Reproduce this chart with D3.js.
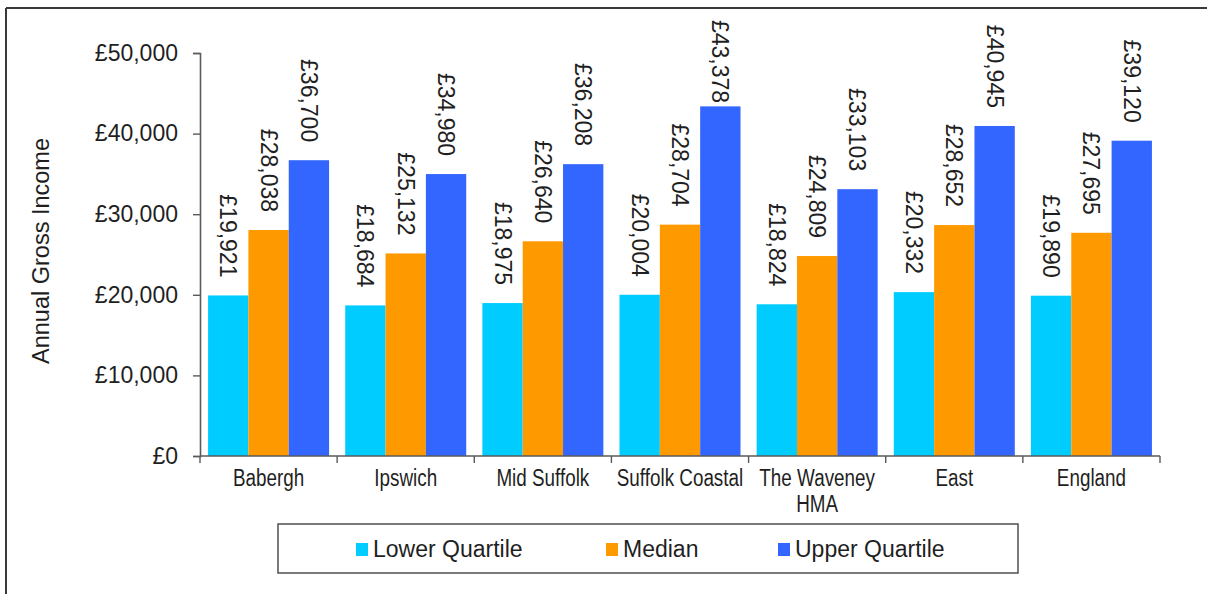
<!DOCTYPE html>
<html>
<head>
<meta charset="utf-8">
<script src="https://cdn.jsdelivr.net/npm/d3@7"></script>
<style>
  html, body { margin: 0; padding: 0; background: #fff; }
  svg { display: block; font-family: "Liberation Sans", Arial, Helvetica, sans-serif; }
</style>
</head>
<body>
<svg id="chart" width="1207" height="594"></svg>
<script>
// Areas shown along the x axis
const areas = ["Babergh", "Ipswich", "Mid Suffolk", "Suffolk Coastal", "The Waveney HMA", "East", "England"];
// Axis label lines for each area
const areaLabelLines = [["Babergh"], ["Ipswich"], ["Mid Suffolk"], ["Suffolk Coastal"], ["The Waveney", "HMA"], ["East"], ["England"]];

// Series names and annual gross income (GBP) per area
const seriesNames = ["Lower Quartile", "Median", "Upper Quartile"];
const lowerQuartile = [19921, 18684, 18975, 20004, 18824, 20332, 19890];
const median        = [28038, 25132, 26640, 28704, 24809, 28652, 27695];
const upperQuartile = [36700, 34980, 36208, 43378, 33103, 40945, 39120];

// Y axis ticks
const yTicks = [0, 10000, 20000, 30000, 40000, 50000];

const seriesValues = [lowerQuartile, median, upperQuartile];
const seriesColors = ["#00CCFF", "#FF9900", "#3366FF"];

const svg = d3.select("#chart");
const textColor = "#1f1f1f";
const axisColor = "#5a5a5a";

// Outer frame
svg.append("line").attr("x1", 6).attr("y1", 8).attr("x2", 1207).attr("y2", 8)
  .attr("stroke", "#3a3a3a").attr("stroke-width", 2);
svg.append("line").attr("x1", 6).attr("y1", 8).attr("x2", 6).attr("y2", 594)
  .attr("stroke", "#3a3a3a").attr("stroke-width", 2);

const plot = { left: 200, right: 1160, top: 53, bottom: 456 };

const x0 = d3.scaleBand().domain(areas).range([plot.left, plot.right]).paddingInner(0).paddingOuter(0);
const x1 = d3.scaleBand().domain(seriesNames).range([0, x0.bandwidth()]).paddingInner(0).paddingOuter(0.2);
const y = d3.scaleLinear().domain([0, 50000]).range([plot.bottom, plot.top]);

const gbp = d3.format(",");

// Bars
const groups = svg.append("g").selectAll("g")
  .data(areas)
  .join("g")
  .attr("transform", d => `translate(${x0(d)},0)`);

groups.selectAll("rect")
  .data((d, i) => seriesNames.map((s, j) => ({ s, v: seriesValues[j][i], c: seriesColors[j] })))
  .join("rect")
  .attr("x", d => x1(d.s))
  .attr("width", x1.bandwidth())
  .attr("y", d => y(d.v))
  .attr("height", d => y(0) - y(d.v))
  .attr("fill", d => d.c);

// Y axis
const yAxis = d3.axisLeft(y).tickValues(yTicks).tickSize(7).tickPadding(15)
  .tickFormat(d => "£" + gbp(d));
const yg = svg.append("g").attr("transform", `translate(${plot.left},0)`).call(yAxis);
yg.select(".domain").attr("stroke", axisColor).attr("stroke-width", 1.6);
yg.selectAll(".tick line").attr("stroke", axisColor).attr("stroke-width", 1.4);
yg.selectAll(".tick text").attr("fill", textColor).attr("font-size", 23)
  .attr("font-family", "Liberation Sans, Arial, sans-serif");

// X axis: ticks at category boundaries
const xg = svg.append("g").attr("transform", `translate(0,${plot.bottom})`);
xg.append("line").attr("x1", plot.left).attr("x2", plot.right).attr("y1", 0).attr("y2", 0)
  .attr("stroke", axisColor).attr("stroke-width", 1.6);
const bounds = areas.map(a => x0(a)).concat([plot.right]);
xg.selectAll("line.tk").data(bounds).join("line").attr("class", "tk")
  .attr("x1", d => d).attr("x2", d => d).attr("y1", 0).attr("y2", 7)
  .attr("stroke", axisColor).attr("stroke-width", 1.4);

// Category labels (narrow face)
areas.forEach((a, i) => {
  const cx = x0(a) + x0.bandwidth() / 2;
  const t = xg.append("text")
    .attr("transform", `translate(${cx},30) scale(0.82,1)`)
    .attr("text-anchor", "middle")
    .attr("fill", textColor)
    .attr("font-size", 23);
  areaLabelLines[i].forEach((line, k) => {
    t.append("tspan").attr("x", 0).attr("y", k * 26).text(line);
  });
});

// Y axis title
svg.append("text")
  .attr("transform", "translate(41,251) rotate(-90)")
  .attr("text-anchor", "middle")
  .attr("dominant-baseline", "central")
  .attr("fill", textColor)
  .attr("font-size", 23.5)
  .text("Annual Gross Income");

// Value labels, rotated, placed above each bar
const labelLayer = svg.append("g");
areas.forEach((a, i) => {
  seriesNames.forEach((s, j) => {
    const v = seriesValues[j][i];
    const cx = x0(a) + x1(s) + x1.bandwidth() / 2;
    const t = labelLayer.append("text")
      .attr("text-anchor", "end")
      .attr("dominant-baseline", "central")
      .attr("fill", textColor)
      .attr("font-size", 23)
      .text("£" + gbp(v));
    const len = t.node().getComputedTextLength();
    const endY = Math.max(y(v) - 18, 20 + len);
    t.attr("transform", `translate(${cx},${endY}) rotate(90)`);
  });
});

// Legend
const legend = svg.append("g");
legend.append("rect").attr("x", 278).attr("y", 524).attr("width", 740).attr("height", 49)
  .attr("fill", "#fff").attr("stroke", axisColor).attr("stroke-width", 1.6);
const legendSwatchX = [356, 606, 778];
seriesNames.forEach((s, j) => {
  legend.append("rect").attr("x", legendSwatchX[j]).attr("y", 543).attr("width", 12).attr("height", 13)
    .attr("fill", seriesColors[j]);
  legend.append("text").attr("x", legendSwatchX[j] + 17).attr("y", 557)
    .attr("fill", textColor).attr("font-size", 23).text(s);
});
</script>
</body>
</html>
